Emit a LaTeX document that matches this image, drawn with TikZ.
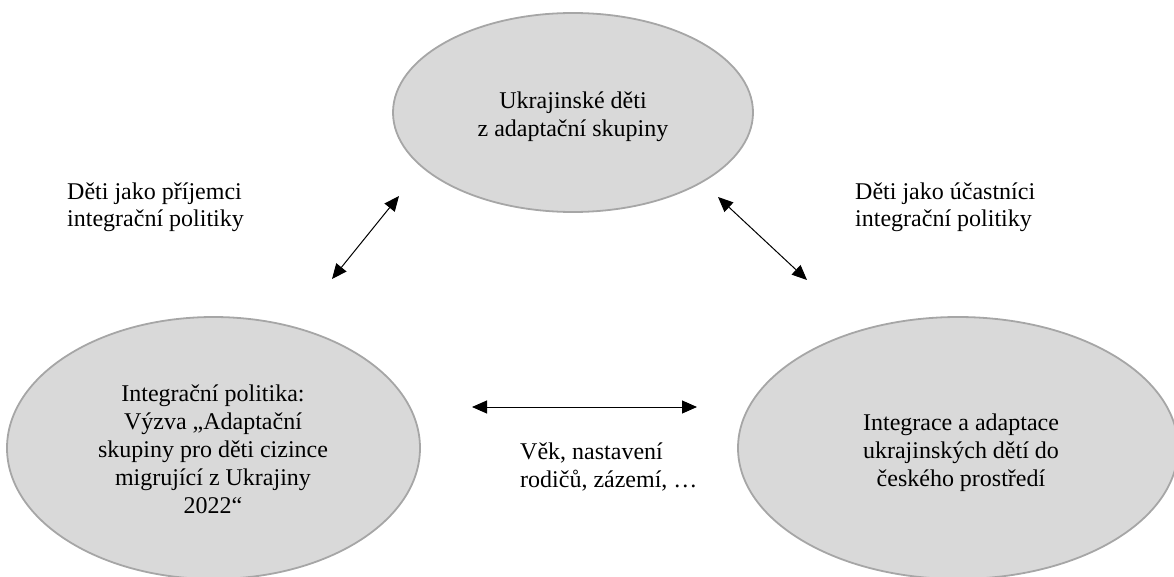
\documentclass[tikz,border=0pt]{standalone}
\usepackage{fontspec}
\setmainfont{Liberation Serif}
\usetikzlibrary{shapes.geometric,arrows.meta}
\definecolor{ellfill}{HTML}{D9D9D9}
\definecolor{elldraw}{HTML}{A6A6A6}
\begin{document}
\begin{tikzpicture}[x=1pt,y=-1pt,
  every node/.style={font=\fontsize{24}{28}\selectfont},
  oval/.style={ellipse, draw=elldraw, fill=ellfill, line width=1.8pt, inner sep=0pt},
  ovaltext/.style={align=center, inner sep=0pt},
  lbl/.style={align=left, inner sep=0pt, anchor=base west},
  dbl/.style={{Triangle[length=15pt,width=13pt]}-{Triangle[length=15pt,width=13pt]}, line width=1pt}
]
\useasboundingbox (0,0) rectangle (1174,577);
\node[oval, minimum width=360, minimum height=199] (top) at (573,112.5) {};
\node[oval, minimum width=413, minimum height=262] (left) at (213.5,448) {};
\node[oval, minimum width=440, minimum height=262] (right) at (958,448) {};
\node[ovaltext] (toptext) at (573,116.5) {Ukrajinské děti\\z adaptační skupiny};
\node[ovaltext] (lefttext) at (213,449.5) {Integrační politika:\\Výzva „Adaptační\\skupiny pro děti cizince\\migrující z Ukrajiny\\2022“};
\node[ovaltext] (righttext) at (961,453) {Integrace a adaptace\\ukrajinských dětí do\\českého prostředí};
\node[lbl] (lt) at (67,227) {Děti jako příjemci\\integrační politiky};
\node[lbl] (rt) at (855,227) {Děti jako účastníci\\integrační politiky};
\node[lbl] (mid) at (520,487) {Věk, nastavení\\rodičů, zázemí, …};
\coordinate (la) at (332,279);
\coordinate (lb) at (399,196);
\coordinate (ra) at (718,197);
\coordinate (rb) at (807,280);
\coordinate (ma) at (472,407);
\coordinate (mb) at (697,407);
\draw[dbl] (la) -- (lb);
\draw[dbl] (ra) -- (rb);
\draw[dbl] (ma) -- (mb);
\end{tikzpicture}
\end{document}
